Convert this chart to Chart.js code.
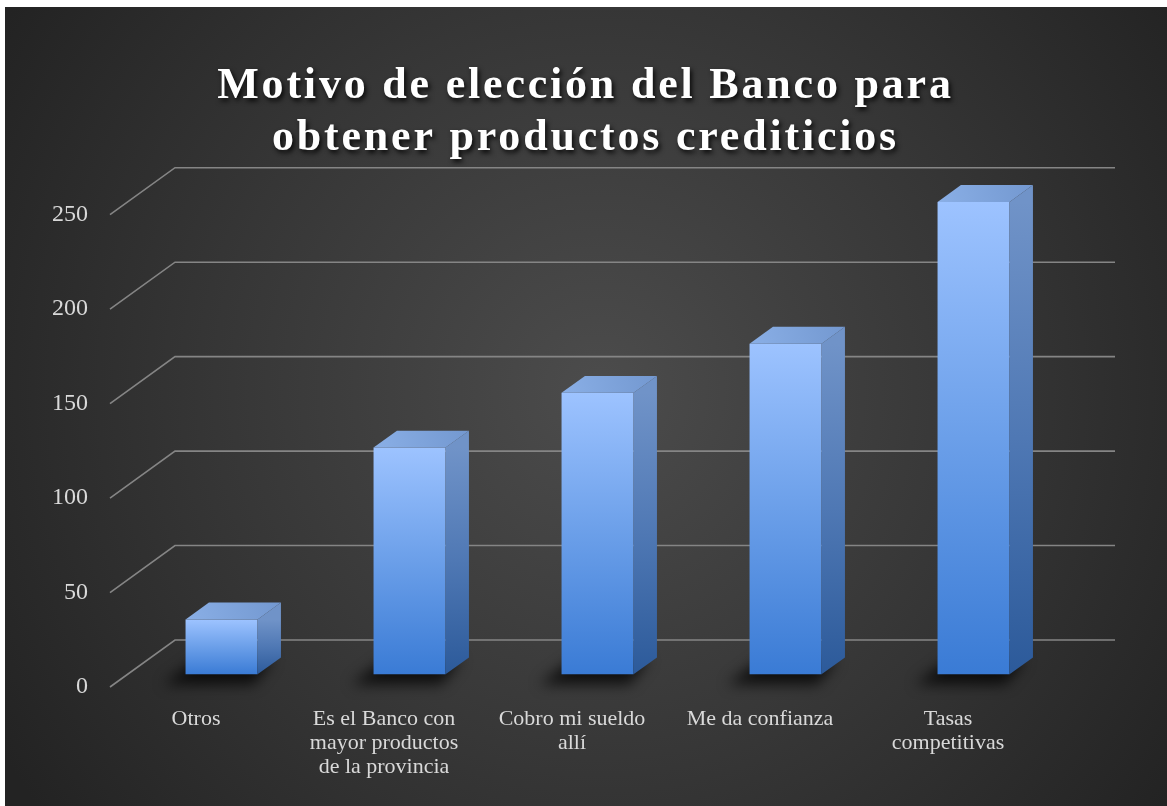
<!DOCTYPE html>
<html><head><meta charset="utf-8">
<script src="https://cdn.jsdelivr.net/npm/chart.js@4.4.1/dist/chart.umd.min.js"></script>
<style>html,body{margin:0;padding:0;background:#fff;overflow:hidden;}</style>
</head><body>
<canvas id="c" width="1167" height="806" style="display:block;width:1167px;height:806px"></canvas>
<script>
// ---- data ----
const titleLines = ['Motivo de elección del Banco para', 'obtener productos crediticios'];
const categories = [
  ['Otros'],
  ['Es el Banco con', 'mayor productos', 'de la provincia'],
  ['Cobro mi sueldo', 'allí'],
  ['Me da confianza'],
  ['Tasas', 'competitivas']
];
const values = [29, 120, 149, 175, 250];
const yTicks = [0, 50, 100, 150, 200, 250];

// ---- 3D look ----
const FLOOR = { dx: 65, dy: -47 };   // full depth of floor / back wall
const BAR_FRONT = 0.27;              // bar front face depth fraction
const BAR_DEPTH = 0.36;              // bar depth fraction

function frontGradient(ctx, top, bot) {
  const g = ctx.createLinearGradient(0, top, 0, bot);
  g.addColorStop(0, '#9dc3ff');
  g.addColorStop(0.5, '#6b9fe9');
  g.addColorStop(1, '#3a7bd5');
  return g;
}

const depth3d = {
  id: 'depth3d',
  beforeDraw(chart) {
    const ctx = chart.ctx;
    ctx.save();
    ctx.fillStyle = '#ffffff';
    ctx.fillRect(0, 0, chart.width, chart.height);
    const g = ctx.createRadialGradient(600, 390, 0, 600, 390, 700);
    g.addColorStop(0, '#4c4c4c');
    g.addColorStop(0.55, '#363636');
    g.addColorStop(1, '#232323');
    ctx.fillStyle = g;
    ctx.fillRect(5, 7, chart.width - 5, chart.height - 7);
    ctx.restore();
    const tb = chart.titleBlock;
    if (tb && !tb._patched) {
      const orig = tb.draw.bind(tb);
      tb.draw = function () {
        const c = chart.ctx;
        c.save();
        // centre the title on the whole picture, not on the plot box
        c.translate(chart.width / 2 - (tb.left + tb.right) / 2 + 2, 0);
        c.letterSpacing = '2.8px';
        c.shadowColor = 'rgba(0,0,0,0.85)';
        c.shadowBlur = 5;
        c.shadowOffsetX = 2;
        c.shadowOffsetY = 3;
        orig();
        c.restore();
      };
      tb._patched = true;
    }
  },
  beforeDatasetsDraw(chart) {
    const { ctx, chartArea: a, scales: { y } } = chart;
    ctx.save();
    ctx.strokeStyle = '#858585';
    ctx.lineWidth = 1.6;
    yTicks.forEach(v => {
      const py = y.getPixelForValue(v);
      ctx.beginPath();
      ctx.moveTo(a.left, py);
      ctx.lineTo(a.left + FLOOR.dx, py + FLOOR.dy);
      ctx.lineTo(a.right + FLOOR.dx, py + FLOOR.dy);
      ctx.stroke();
    });
    ctx.restore();
    // translate to bar plane
    ctx.save();
    ctx.translate(FLOOR.dx * BAR_FRONT, FLOOR.dy * BAR_FRONT);
    const bdx = FLOOR.dx * BAR_DEPTH, bdy = FLOOR.dy * BAR_DEPTH;
    const meta = chart.getDatasetMeta(0);
    meta.data.forEach(bar => {
      const p = bar.getProps(['x', 'y', 'base', 'width'], true);
      if (bar.options) bar.options.backgroundColor = frontGradient(ctx, p.y, p.base);
      const l = p.x - p.width / 2, r = p.x + p.width / 2;
      ctx.save();
      ctx.filter = 'blur(7px)';
      ctx.fillStyle = 'rgba(0,0,0,0.75)';
      ctx.beginPath();
      ctx.moveTo(l - 22, p.base + 10);
      ctx.lineTo(r - 4, p.base + 10);
      ctx.lineTo(r + bdx - 8, p.base + bdy + 2);
      ctx.lineTo(l + bdx - 12, p.base + bdy + 2);
      ctx.closePath();
      ctx.fill();
      ctx.restore();
    });
  },
  afterDatasetsDraw(chart) {
    const ctx = chart.ctx;
    const bdx = FLOOR.dx * BAR_DEPTH, bdy = FLOOR.dy * BAR_DEPTH;
    const meta = chart.getDatasetMeta(0);
    meta.data.forEach(bar => {
      const p = bar.getProps(['x', 'y', 'base', 'width'], true);
      const l = p.x - p.width / 2, r = p.x + p.width / 2;
      // side face
      const gs = ctx.createLinearGradient(0, p.y, 0, p.base);
      gs.addColorStop(0, '#7093c8');
      gs.addColorStop(0.5, '#4f78b4');
      gs.addColorStop(1, '#2c5a9a');
      ctx.fillStyle = gs;
      ctx.beginPath();
      ctx.moveTo(r, p.y);
      ctx.lineTo(r + bdx, p.y + bdy);
      ctx.lineTo(r + bdx, p.base + bdy);
      ctx.lineTo(r, p.base);
      ctx.closePath();
      ctx.fill();
      // top face
      const gt = ctx.createLinearGradient(l, p.y, r + bdx, p.y + bdy);
      gt.addColorStop(0, '#8aafe6');
      gt.addColorStop(1, '#7398d0');
      ctx.fillStyle = gt;
      ctx.beginPath();
      ctx.moveTo(l, p.y);
      ctx.lineTo(l + bdx, p.y + bdy);
      ctx.lineTo(r + bdx, p.y + bdy);
      ctx.lineTo(r, p.y);
      ctx.closePath();
      ctx.fill();
    });
    ctx.restore();
  }
};

new Chart(document.getElementById('c'), {
  type: 'bar',
  data: {
    labels: categories,
    datasets: [{
      data: values,
      clip: false,
      borderWidth: 0,
      barPercentage: 0.383,
      categoryPercentage: 1,
      backgroundColor: (c) => '#6b9fe9'
    }]
  },
  options: {
    responsive: false,
    animation: false,
    devicePixelRatio: 1,
    layout: { padding: { left: 0, right: 117, top: 0, bottom: 0 } },
    plugins: {
      legend: { display: false },
      tooltip: { enabled: false },
      title: {
        display: true,
        text: titleLines,
        color: '#ffffff',
        font: { family: 'Liberation Serif', size: 44, weight: 'bold', lineHeight: 1.19 },
        padding: { top: 60, bottom: 50 }
      }
    },
    scales: {
      x: {
        grid: { display: false, drawTicks: false },
        border: { display: false },
        ticks: {
          color: '#d9d9d9',
          font: { family: 'Liberation Serif', size: 22, lineHeight: 1.1 },
          padding: 20,
          maxRotation: 0,
          autoSkip: false,
          labelOffset: -8
        },
        afterFit: (s) => { s.height = 119; }
      },
      y: {
        min: 0, max: 250,
        grid: { display: false, drawTicks: false },
        border: { display: false },
        ticks: {
          stepSize: 50,
          color: '#d9d9d9',
          font: { family: 'Liberation Serif', size: 24 },
          padding: 22
        },
        afterFit: (s) => { s.width = 110; }
      }
    }
  },
  plugins: [depth3d]
});
</script>
</body></html>
